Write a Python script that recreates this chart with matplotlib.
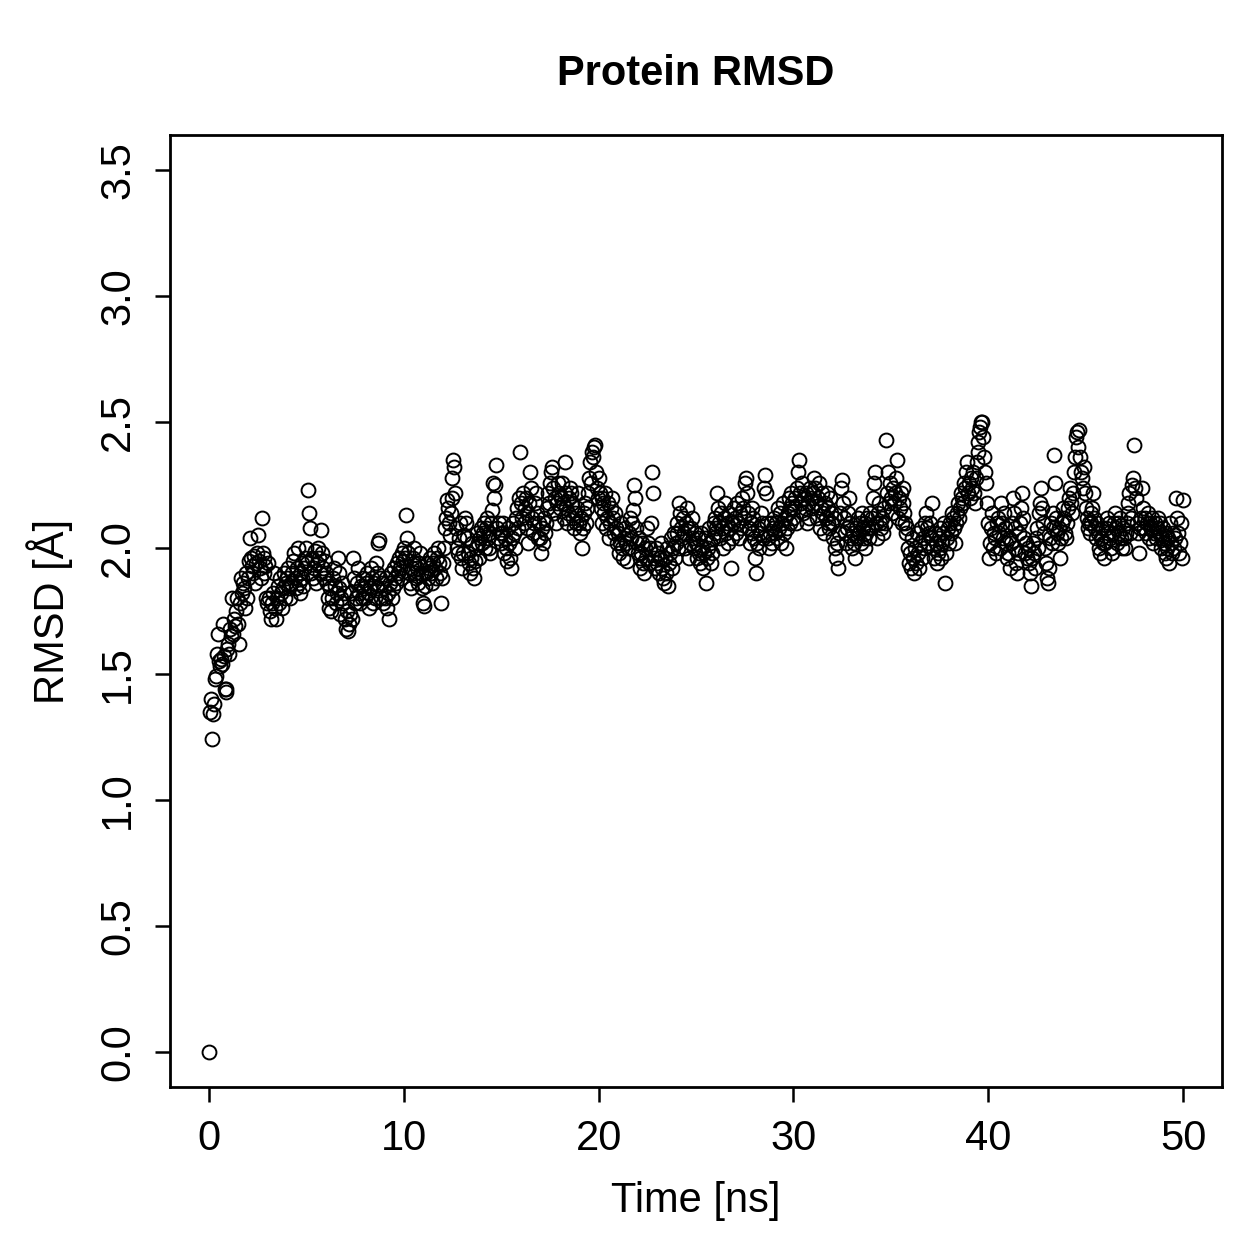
import numpy as np
import matplotlib
matplotlib.use("Agg")
import matplotlib.pyplot as plt

plt.rcParams['font.family'] = ['Liberation Sans', 'DejaVu Sans']

rmsd_00_10 = [
    0.00,1.35,1.40,1.24,1.34,1.38,1.48,1.49,1.58,1.66,1.55,1.53,1.56,1.54,1.70,1.57,1.44,1.43,1.44,1.60,
    1.62,1.58,1.68,1.65,1.80,1.66,1.72,1.69,1.75,1.80,1.70,1.62,1.78,1.88,1.82,1.86,1.84,1.76,1.90,1.80,
    1.88,1.95,2.04,1.96,1.93,1.90,1.97,1.86,1.94,1.98,2.05,1.95,1.92,1.88,2.12,1.98,1.90,1.96,1.93,1.80,
    1.78,1.94,1.80,1.75,1.72,1.78,1.82,1.90,1.76,1.72,1.80,1.85,1.78,1.88,1.82,1.76,1.84,1.90,1.80,1.86,
    1.88,1.92,1.84,1.80,1.86,1.90,1.95,1.98,1.88,1.84,1.92,2.00,1.86,1.82,1.90,1.94,1.88,1.85,1.92,1.96,
    2.00,1.94,2.23,2.14,2.08,1.90,1.96,1.88,1.92,1.99,1.86,1.94,2.00,1.96,1.90,2.07,1.98,1.92,1.88,1.95,
    1.90,1.86,1.80,1.76,1.84,1.75,1.80,1.88,1.92,1.85,1.78,1.82,1.96,1.90,1.84,1.74,1.80,1.86,1.78,1.82,
    1.72,1.68,1.75,1.67,1.70,1.74,1.82,1.72,1.96,1.88,1.78,1.80,1.86,1.92,1.82,1.78,1.85,1.80,1.88,1.84,
    1.80,1.86,1.90,1.82,1.76,1.84,1.92,1.88,1.78,1.86,1.80,1.94,1.90,1.84,2.02,2.03,1.88,1.80,1.86,1.78,
    1.84,1.80,1.88,1.76,1.82,1.72,1.86,1.90,1.80,1.84,1.92,1.88,1.86,1.94,1.90,1.96,1.92,1.88,1.98,1.95,
]
rmsd_10_20 = [
    2.00,1.96,2.13,2.04,1.98,1.90,1.86,1.84,1.92,1.96,2.00,1.94,1.90,1.88,1.92,1.86,1.94,1.98,1.90,1.84,
    1.78,1.77,1.85,1.90,1.94,1.88,1.92,1.96,1.90,1.86,1.94,1.98,1.92,1.88,1.96,2.00,1.94,1.90,1.78,1.88,
    1.94,2.00,2.08,2.12,2.19,2.16,2.10,2.05,2.14,2.20,2.28,2.35,2.32,2.22,2.08,2.00,1.98,2.04,2.10,1.96,
    1.92,1.98,2.05,2.12,2.10,2.04,1.98,1.94,1.90,1.96,2.02,1.92,1.88,1.95,2.00,2.06,2.02,1.96,2.04,2.08,
    2.02,2.06,2.10,2.00,2.08,2.12,2.04,2.00,2.06,1.98,2.10,2.15,2.26,2.20,2.25,2.33,2.08,2.04,2.10,2.06,
    2.02,2.06,2.10,1.98,2.04,2.00,1.95,2.08,2.02,1.96,1.92,2.04,2.10,2.06,2.00,2.12,2.16,2.08,2.20,2.38,
    2.18,2.12,2.22,2.10,2.16,2.20,2.08,2.14,2.02,2.18,2.30,2.24,2.12,2.06,2.10,2.18,2.22,2.14,2.04,2.10,
    2.04,1.98,2.08,2.02,2.12,2.06,2.10,2.16,2.22,2.18,2.26,2.30,2.32,2.24,2.14,2.20,2.10,2.18,2.26,2.22,
    2.16,2.20,2.26,2.18,2.12,2.22,2.34,2.16,2.10,2.14,2.20,2.24,2.22,2.18,2.12,2.08,2.14,2.10,2.16,2.22,
    2.10,2.06,2.12,2.00,2.08,2.14,2.18,2.10,2.16,2.22,2.28,2.34,2.26,2.38,2.36,2.40,2.41,2.30,2.24,2.20,
]
rmsd_20_30 = [
    2.28,2.22,2.16,2.20,2.10,2.18,2.14,2.22,2.08,2.12,2.18,2.04,2.10,2.16,2.20,2.12,2.06,2.14,2.08,2.02,
    2.06,1.98,2.02,2.10,2.00,1.96,2.04,2.08,2.02,1.95,2.00,2.06,2.12,2.04,2.10,2.15,2.25,2.20,2.08,2.02,
    1.98,2.04,1.96,1.92,1.98,2.02,1.94,1.90,2.00,1.96,2.08,2.02,1.94,2.00,2.10,2.30,2.22,1.96,1.92,2.00,
    1.94,1.98,1.90,1.96,2.02,1.92,1.88,1.86,1.96,1.90,2.00,1.85,1.94,1.98,2.04,1.92,2.00,2.06,1.96,2.02,
    2.06,2.10,2.00,2.18,2.14,2.08,2.04,2.12,2.06,2.00,2.10,2.16,2.08,1.96,2.02,2.08,2.12,2.04,2.00,2.06,
    2.02,1.96,2.04,1.98,1.94,2.06,2.00,1.92,1.98,2.04,1.86,1.96,2.00,2.08,2.02,1.94,1.98,2.04,2.10,2.06,
    2.12,2.08,2.22,2.16,2.10,2.04,2.14,2.08,2.00,2.12,2.18,2.06,2.10,2.02,2.14,2.08,1.92,2.04,2.10,2.16,
    2.12,2.06,2.18,2.10,2.04,2.14,2.08,2.20,2.16,2.12,2.26,2.28,2.22,2.14,2.08,2.02,2.10,2.16,2.06,2.12,
    2.04,1.96,1.90,2.02,2.08,2.00,2.06,2.14,2.10,2.04,2.24,2.29,2.22,2.10,2.04,2.00,2.06,2.10,2.02,2.08,
    2.12,2.06,2.10,2.04,2.16,2.08,2.14,2.02,2.10,2.18,2.06,2.12,2.00,2.08,2.14,2.20,2.16,2.10,2.22,2.18,
]
rmsd_30_40 = [
    2.12,2.16,2.20,2.10,2.24,2.30,2.35,2.22,2.18,2.26,2.14,2.20,2.16,2.22,2.10,2.18,2.12,2.24,2.20,2.16,
    2.22,2.28,2.24,2.18,2.12,2.20,2.26,2.08,2.16,2.22,2.14,2.06,2.18,2.12,2.22,2.10,2.16,2.08,2.20,2.14,
    2.10,2.04,2.12,2.00,1.96,2.02,1.92,2.06,2.14,2.24,2.27,2.18,2.12,2.06,2.02,2.08,2.14,2.20,2.10,2.04,
    2.00,2.06,2.02,1.96,2.08,2.04,2.12,2.06,2.10,2.02,2.14,2.08,2.04,2.10,2.00,2.06,2.12,2.08,2.04,2.14,
    2.08,2.12,2.20,2.26,2.30,2.10,2.04,2.14,2.18,2.10,2.08,2.12,2.06,2.16,2.10,2.43,2.22,2.30,2.18,2.26,
    2.20,2.14,2.24,2.18,2.22,2.28,2.35,2.12,2.20,2.16,2.22,2.10,2.24,2.18,2.14,2.10,2.06,2.08,2.00,1.94,
    1.98,1.92,2.04,1.96,1.90,2.00,1.94,2.06,1.98,1.92,2.02,2.08,1.96,2.04,2.00,2.10,2.14,2.08,2.02,2.06,
    2.10,2.04,2.18,2.00,1.96,2.06,2.02,1.94,1.98,2.04,2.08,2.00,1.96,2.02,2.06,2.10,1.86,1.98,2.04,2.08,
    2.02,2.10,2.06,2.14,2.12,2.08,2.02,2.10,2.14,2.18,2.12,2.16,2.22,2.20,2.18,2.26,2.24,2.30,2.34,2.22,
    2.26,2.20,2.28,2.24,2.30,2.22,2.18,2.28,2.34,2.38,2.42,2.46,2.48,2.50,2.50,2.44,2.36,2.30,2.26,2.18,
]
rmsd_40_50 = [
    2.10,1.96,2.02,2.08,2.14,2.00,2.06,2.04,1.98,2.10,2.12,2.06,2.00,2.18,2.10,2.04,2.14,2.08,2.02,1.96,
    1.98,2.04,1.92,2.02,2.10,2.20,2.14,2.08,2.00,1.94,1.90,1.98,2.06,2.10,2.16,2.22,2.12,2.04,1.98,2.02,
    1.96,2.00,1.94,1.90,1.85,1.96,2.02,1.98,1.92,2.04,2.08,2.00,2.14,2.18,2.24,2.16,2.10,2.06,2.00,1.94,
    1.88,1.86,1.92,2.04,2.10,2.02,2.08,2.14,2.37,2.26,2.12,2.06,2.02,2.08,1.96,2.04,2.10,2.16,2.12,2.06,
    2.04,2.10,2.16,2.20,2.24,2.18,2.14,2.22,2.30,2.36,2.44,2.46,2.40,2.47,2.36,2.30,2.28,2.24,2.32,2.22,
    2.16,2.12,2.08,2.10,2.06,2.14,2.10,2.16,2.22,2.12,2.08,2.04,2.10,2.06,2.00,1.98,2.04,2.08,2.02,1.96,
    2.02,2.08,2.12,2.06,2.10,2.04,2.00,1.98,2.06,2.10,2.14,2.08,2.02,2.10,2.06,2.12,2.04,2.00,2.08,2.04,
    2.00,2.06,2.10,2.14,2.18,2.22,2.06,2.12,2.25,2.28,2.41,2.24,2.20,2.10,2.06,1.98,2.08,2.12,2.24,2.16,
    2.08,2.12,2.06,2.10,2.14,2.04,2.10,2.08,2.12,2.02,2.06,2.10,2.04,2.08,2.12,2.06,2.10,2.00,2.04,2.08,
    2.02,1.98,2.06,1.96,2.00,2.04,1.94,2.10,2.02,1.98,2.06,2.00,2.04,2.20,2.12,2.06,1.98,2.02,2.10,1.96,
    2.19,
]

rmsd = np.array(rmsd_00_10 + rmsd_10_20 + rmsd_20_30 + rmsd_30_40 + rmsd_40_50)
time_ns = np.arange(len(rmsd)) * 0.05

x_ticks = [0, 10, 20, 30, 40, 50]
y_ticks = [0.0, 0.5, 1.0, 1.5, 2.0, 2.5, 3.0, 3.5]
y_tick_labels = ["0.0", "0.5", "1.0", "1.5", "2.0", "2.5", "3.0", "3.5"]

fig = plt.figure(figsize=(12.59, 12.59), dpi=100)
ax = fig.add_axes([170/1259, 1 - 1087/1259, (1222-170)/1259, (1087-135)/1259])

ax.plot(time_ns, rmsd, linestyle='none', marker='o', markersize=10,
        markerfacecolor='none', markeredgecolor='black', markeredgewidth=1.4)

ax.set_xlim(-2, 52)
ax.set_ylim(-0.14, 3.64)
ax.set_xticks(x_ticks)
ax.set_xticklabels([str(v) for v in x_ticks])
ax.set_yticks(y_ticks)
ax.set_yticklabels(y_tick_labels, rotation=90, va='center')

for s in ax.spines.values():
    s.set_linewidth(2.0)
ax.tick_params(axis='both', direction='out', length=11, width=1.8,
               labelsize=30, pad=12)

ax.set_title("Protein RMSD", fontsize=30, fontweight='bold', pad=36)
ax.set_xlabel("Time [ns]", fontsize=30, labelpad=16)
ax.set_ylabel("RMSD [Å]", fontsize=30, labelpad=18)

fig.savefig("out.png", dpi=100)
